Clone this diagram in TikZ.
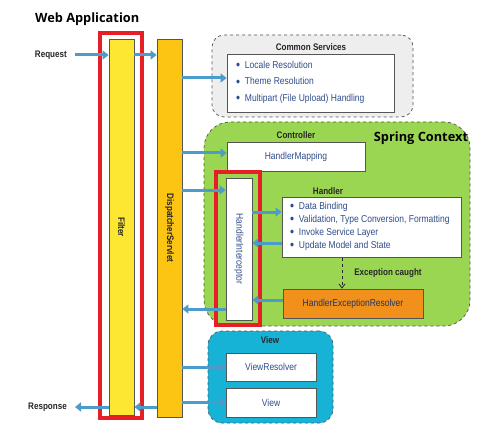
\documentclass[tikz,border=0pt]{standalone}
\usepackage{fontspec}
\setmainfont{Liberation Sans}[FakeStretch=0.85]
\newfontfamily\titlefont{Open Sans}
\usetikzlibrary{arrows.meta}
\definecolor{filteryellow}{HTML}{FDE733}
\definecolor{dispyellow}{HTML}{FCC514}
\definecolor{springgreen}{HTML}{9BD653}
\definecolor{viewblue}{HTML}{17B3D6}
\definecolor{csgray}{HTML}{EEEEEE}
\definecolor{herorange}{HTML}{F2901C}
\definecolor{redhl}{HTML}{E61E25}
\definecolor{arrowblue}{HTML}{4B9BCB}
\definecolor{textblue}{HTML}{2F4C8A}
\definecolor{edgegray}{HTML}{555555}
\newcommand{\bul}{\raisebox{-1.2pt}{\scalebox{1.35}{\textbullet}}\ \ }
\tikzset{
  bar/.style={draw=edgegray, line width=0.8pt, minimum width=25pt, inner sep=0pt},
  barlabel/.style={font=\fontsize{9.5}{10}\selectfont\bfseries, text=black!85, rotate=-90},
  group/.style={draw=edgegray, dashed, line width=0.7pt, inner sep=0pt},
  whitebox/.style={draw=edgegray, line width=0.8pt, fill=white, inner sep=0pt, font=\fontsize{10}{11}\selectfont, text=textblue},
  label/.style={font=\fontsize{9.5}{10}\selectfont\bfseries, text=black!85, inner sep=0pt},
  title/.style={font=\titlefont\fontsize{12.8}{14}\selectfont\bfseries, text=black, inner sep=0pt},
  redbox/.style={draw=redhl, line width=3.6pt, inner sep=0pt},
  flow/.style={draw=arrowblue, line width=3pt, -{Triangle[length=6pt,width=9pt]}},
  listtext/.style={align=left, font=\fontsize{10}{#1}\selectfont, text=textblue, inner sep=0pt, anchor=north west}
}
\begin{document}
\begin{tikzpicture}[x=1pt,y=-1pt]
\useasboundingbox[fill=white] (0,0) rectangle (502,446);

% title
\node[title, anchor=west] (webapp) at (35,19) {Web Application};

% groups (background)
\node[group, fill=csgray, rounded corners=12pt, minimum width=201pt, minimum height=82pt] (cs) at (312.5,76) {};
\node[group, fill=springgreen, rounded corners=26pt, minimum width=266pt, minimum height=204pt] (spring) at (337,224) {};
\node[group, fill=viewblue, rounded corners=14pt, minimum width=125pt, minimum height=92pt] (viewgrp) at (270.5,377) {};

% bars
\node[bar, fill=filteryellow, minimum height=376pt] (filter) at (121.5,227) {};
\node[barlabel] at (filter.center) {Filter};
\node[bar, fill=dispyellow, minimum height=378pt] (disp) at (169.5,228) {};
\node[barlabel] at (disp.center) {DispatcherServlet};

% common services
\node[label] (cstitle) at (311,47) {Common Services};
\node[whitebox, minimum width=167pt, minimum height=58pt] (csin) at (310.5,83) {};
\node[listtext=16.5] (cslist) at (236,61) {\bul Locale Resolution\\\bul Theme Resolution\\\bul Multipart (File Upload) Handling};

% spring context
\node[title] (springtitle) at (421,138) {Spring Context};
\node[label] (ctrl) at (296,135) {Controller};
\node[whitebox, minimum width=138pt, minimum height=29pt] (hm) at (296,156.5) {HandlerMapping};
\node[whitebox, minimum width=26pt, minimum height=142pt] (icpt) at (239,249) {};
\node[font=\fontsize{10}{11}\selectfont, text=textblue, rotate=-90] at (icpt.center) {HandlerInterceptor};
\node[label] (handlerlbl) at (328,191) {Handler};
\node[whitebox, minimum width=179pt, minimum height=60pt] (handler) at (371.5,227.5) {};
\node[listtext=13] (hlist) at (290,202) {\bul Data Binding\\\bul Validation, Type Conversion, Formatting\\\bul Invoke Service Layer\\\bul Update Model and State};
\node[label] (exc) at (388,273) {Exception caught};
\node[whitebox, fill=herorange, text=textblue!70!black, minimum width=140pt, minimum height=29pt] (her) at (353,303.5) {HandlerExceptionResolver};

% view
\node[label] (viewtitle) at (270,340) {View};
\node[whitebox, minimum width=90pt, minimum height=28pt] (vr) at (271,367) {ViewResolver};
\node[whitebox, minimum width=90pt, minimum height=29pt] (view) at (271,402.5) {View};

% highlight boxes
\node[redbox, minimum width=42pt, minimum height=385pt] (filterhl) at (121,225.5) {};
\node[redbox, minimum width=44pt, minimum height=153pt] (icpthl) at (238,248.5) {};

% request / response
\node[label, anchor=east] (req) at (67,55) {Request};
\node[label, anchor=east] (resp) at (67,407) {Response};

% arrows
\draw[flow] ([xshift=8pt]req.east) -- (req.east -| filter.west);
\draw[flow] (req.east -| filter.east) -- (req.east -| disp.west);
\draw[flow] (disp.east |- 0,78) -- (csin.west |- 0,78);
\draw[flow] (disp.east |- 0,153) -- (hm.west |- 0,153);
\draw[flow] (disp.east |- 0,190) -- (icpt.west |- 0,190);
\draw[flow] (icpt.east |- 0,212) -- (handler.west |- 0,212);
\draw[flow] (handler.west |- 0,243) -- (icpt.east |- 0,243);
\draw[black!85, dashed, line width=0.8pt, -{Straight Barb[length=4pt,width=6pt]}] (handler.south -| 342,0) -- (her.north -| 342,0);
\draw[flow] (her.west |- 0,300) -- (icpt.east |- 0,300);
\draw[flow] (icpt.west |- 0,309) -- (disp.east |- 0,309);
\draw[flow] (disp.east |- 0,367) -- (vr.west |- 0,367);
\draw[flow] (disp.east |- 0,402) -- (view.west |- 0,402);
\draw[flow] (disp.west |- resp.east) -- (filter.east |- resp.east);
\draw[flow] (filter.west |- resp.east) -- ([xshift=8pt]resp.east);
\end{tikzpicture}
\end{document}
